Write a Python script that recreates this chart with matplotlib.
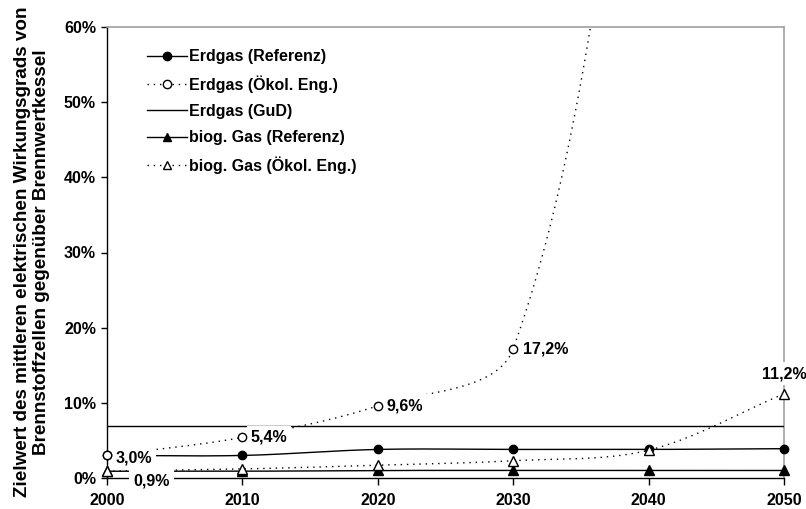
import numpy as np
import matplotlib
matplotlib.use('Agg')
import matplotlib.pyplot as plt
from matplotlib.lines import Line2D

plt.rcParams['font.family'] = ['Liberation Sans', 'DejaVu Sans']
plt.rcParams['font.weight'] = 'bold'
plt.rcParams['font.size'] = 11.5

# --- data (percent) ---
years = [2000, 2010, 2020, 2030, 2040, 2050]
erdgas_ref = [3.0, 3.0, 3.8, 3.8, 3.8, 3.9]
erdgas_oeko = [3.0, 5.4, 9.6, 17.2, 110.0, 220.0]   # 2040/2050 far above the plot
erdgas_gud = [6.9, 6.9, 6.9, 6.9, 6.9, 6.9]
biog_ref = [0.9, 0.9, 1.0, 1.0, 1.0, 1.0]
biog_oeko = [0.9, 1.2, 1.7, 2.3, 3.7, 11.2]

series_names = ['Erdgas (Referenz)', 'Erdgas (Ökol. Eng.)', 'Erdgas (GuD)',
                'biog. Gas (Referenz)', 'biog. Gas (Ökol. Eng.)']

label_years = [2000, 2000, 2010, 2020, 2030, 2050]
label_values = [3.0, 0.9, 5.4, 9.6, 17.2, 11.2]
label_texts = ['3,0%', '0,9%', '5,4%', '9,6%', '17,2%', '11,2%']

y_ticks = [0, 10, 20, 30, 40, 50, 60]
ylabel = 'Zielwert des mittleren elektrischen Wirkungsgrads von\nBrennstoffzellen gegenüber Brennwertkessel'


def excel_smooth(ax, xs, ys, n=200):
    # smoothed line like the spreadsheet's "smooth line" option, done in pixel space
    pts = ax.transData.transform(np.column_stack([xs, ys]))
    m = len(pts)
    out = [pts[0]]
    t = np.linspace(0, 1, n)[1:, None]
    for i in range(m - 1):
        p0 = pts[max(i - 1, 0)]
        p1 = pts[i]
        p2 = pts[i + 1]
        p3 = pts[min(i + 2, m - 1)]
        d01 = np.hypot(*(p1 - p0))
        d12 = np.hypot(*(p2 - p1))
        d23 = np.hypot(*(p3 - p2))
        c1 = p1 + (p2 - p0) * d12 / (3 * (d01 + d12))
        c2 = p2 - (p3 - p1) * d12 / (3 * (d12 + d23))
        seg = (1 - t) ** 3 * p1 + 3 * (1 - t) ** 2 * t * c1 + 3 * (1 - t) * t ** 2 * c2 + t ** 3 * p2
        out.extend(seg)
    out = ax.transData.inverted().transform(np.array(out))
    return out[:, 0], out[:, 1]


fig = plt.figure(figsize=(8.06, 5.09), dpi=100)
ax = fig.add_axes([107 / 806, 1 - 478 / 509, 677 / 806, 451 / 509])
ax.set_xlim(2000, 2050)
ax.set_ylim(0, 60)

dotted = (0, (1, 3.5))
styles = [
    dict(ls='-', marker='o', mfc='black'),
    dict(ls=dotted, marker='o', mfc='white'),
    dict(ls='-', marker=None, mfc='black'),
    dict(ls='-', marker='^', mfc='black'),
    dict(ls=dotted, marker='^', mfc='white'),
]
all_series = [erdgas_ref, erdgas_oeko, erdgas_gud, biog_ref, biog_oeko]

handles = []
for k, (vals, st, name) in enumerate(zip(all_series, styles, series_names)):
    sx, sy = excel_smooth(ax, years, vals)
    ax.plot(sx, sy, color='black', lw=1.0, ls=st['ls'], zorder=3 + k * 0.1)
    if st['marker']:
        shown = np.ma.masked_greater(vals, 60)   # points above the axis are not drawn
        ax.plot(years, shown, ls='none', marker=st['marker'], ms=6 if st['marker'] == 'o' else 6.5,
                mfc=st['mfc'], mec='black', mew=1.0, zorder=11 + k * 0.1, clip_on=False)
    handles.append(Line2D([], [], color='black', lw=1.0, ls=st['ls'], marker=st['marker'],
                          ms=6, mfc=st['mfc'], mec='black', mew=1.0))

# value labels with white boxes (they hide the lines behind them)
offsets = [(6, -1.5, 'left'), (19, -7, 'left'), (6, 0, 'left'),
           (6.5, 0, 'left'), (7, 0, 'left'), (0, 14.5, 'center')]
for yr, v, txt, (dx, dy, ha) in zip(label_years, label_values, label_texts, offsets):
    ax.annotate(txt, xy=(yr, v), xytext=(dx, dy), textcoords='offset points',
                ha=ha, va='center', fontsize=11.5, fontweight='bold', zorder=10,
                annotation_clip=False,
                bbox=dict(boxstyle='square,pad=0.25', fc='white', ec='none'))

ax.legend(handles, series_names, loc='upper left', bbox_to_anchor=(0.059, 0.951),
          frameon=False, borderaxespad=0, borderpad=0, handlelength=2.5,
          handletextpad=0.12, labelspacing=0.7, numpoints=1,
          prop=dict(weight='bold', size=11.5))

ax.set_xticks(years)
ax.set_yticks(y_ticks)
ax.set_yticklabels([f'{v}%' for v in y_ticks])
ax.tick_params(axis='x', direction='out', length=5, width=1, pad=6, labelsize=11.5)
ax.tick_params(axis='y', direction='out', length=4, width=1, pad=4, labelsize=11.5)

for s in ['top', 'right']:
    ax.spines[s].set_color('#a0a0a0')
    ax.spines[s].set_linewidth(1.2)
for s in ['left', 'bottom']:
    ax.spines[s].set_color('black')
    ax.spines[s].set_linewidth(1.0)

fig.text(32 / 806, 1 - 252 / 509, ylabel, rotation=90, ha='center', va='center',
         multialignment='center', fontsize=13.6, fontweight='bold', linespacing=1.15)

fig.savefig('out.png', dpi=100)
